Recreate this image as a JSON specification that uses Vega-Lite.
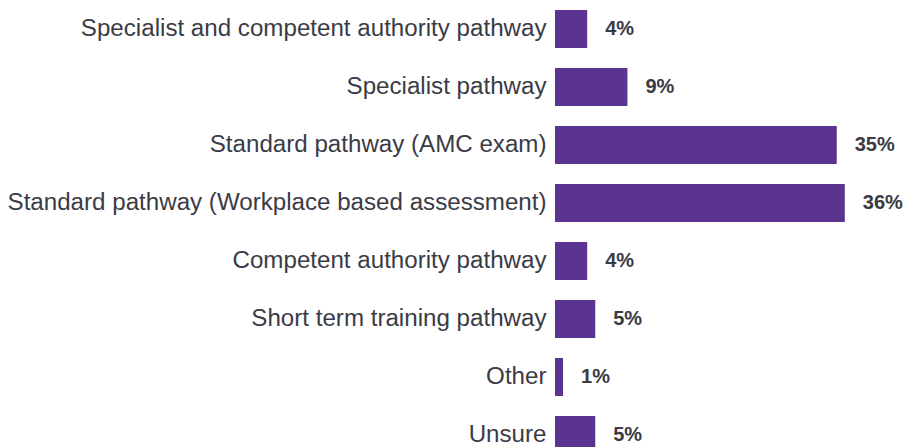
{
  "$schema": "https://vega.github.io/schema/vega-lite/v6.json",
  "autosize": {"type": "none"},
  "padding": {"left": 555, "top": 0, "right": 29, "bottom": 0},
  "width": 322,
  "height": 464,
  "background": "white",
  "config": {"view": {"stroke": null}, "font": "Liberation Sans"},
  "data": {
    "values": [
      {"pathway": "Specialist and competent authority pathway", "pct": 4, "label": "4%"},
      {"pathway": "Specialist pathway", "pct": 9, "label": "9%"},
      {"pathway": "Standard pathway (AMC exam)", "pct": 35, "label": "35%"},
      {"pathway": "Standard pathway (Workplace based assessment)", "pct": 36, "label": "36%"},
      {"pathway": "Competent authority pathway", "pct": 4, "label": "4%"},
      {"pathway": "Short term training pathway", "pct": 5, "label": "5%"},
      {"pathway": "Other", "pct": 1, "label": "1%"},
      {"pathway": "Unsure", "pct": 5, "label": "5%"}
    ]
  },
  "encoding": {
    "y": {
      "field": "pathway",
      "type": "nominal",
      "sort": null,
      "scale": {"paddingInner": 0.345, "paddingOuter": 0.1724},
      "axis": {
        "title": null,
        "domain": false,
        "ticks": false,
        "labelPadding": 9,
        "labelFontSize": 24.15,
        "labelColor": "#3b3b46",
        "labelLimit": 0,
        "labelFont": "Liberation Sans"
      }
    },
    "x": {
      "field": "pct",
      "type": "quantitative",
      "scale": {"domain": [0, 40], "nice": false},
      "axis": null
    }
  },
  "layer": [
    {"mark": {"type": "bar", "color": "#5a348e"}},
    {
      "mark": {
        "type": "text",
        "align": "left",
        "baseline": "middle",
        "dx": 18,
        "fontSize": 20,
        "fontWeight": "bold",
        "color": "#3a3a42",
        "font": "Liberation Sans"
      },
      "encoding": {"text": {"field": "label", "type": "nominal"}}
    }
  ]
}
